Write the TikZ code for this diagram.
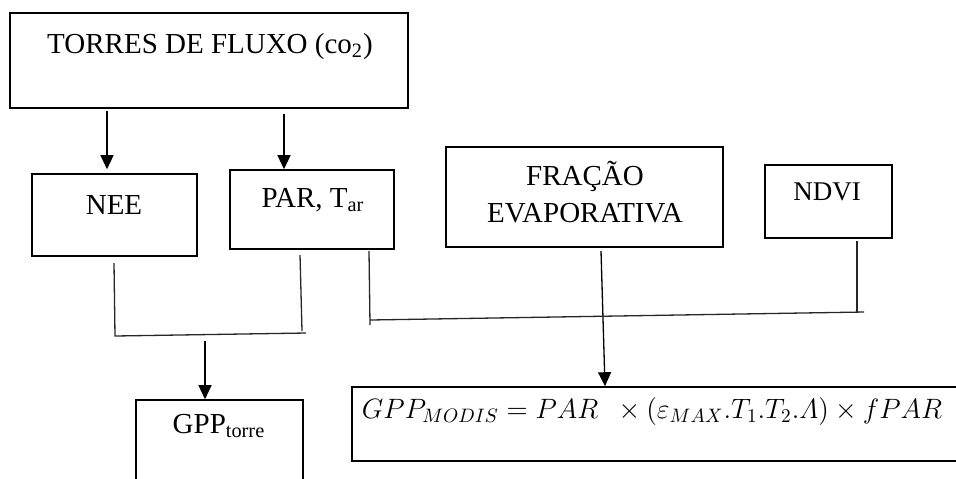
\documentclass[tikz,border=0pt]{standalone}
\usepackage{fontspec}
\setmainfont{Liberation Serif}
\usepackage{amsmath}
\usepackage{graphicx}
\usetikzlibrary{arrows.meta}
\begin{document}
\begin{tikzpicture}[x=0.5pt,y=-0.5pt,
  box/.style n args={2}{draw=black,line width=0.8pt,minimum width=#1,minimum height=#2,inner sep=0pt},
  txt/.style={anchor=base,inner sep=0pt,font=\fontsize{14.5}{17}\selectfont},
  arr/.style={-{Triangle[length=7pt,width=6.5pt]},line width=0.65pt,draw=black},
  conn/.style={line width=0.65pt,draw=black!85}]
\clip (0,0) rectangle (956,478);
% boxes
\node[box={199pt}{47.5pt}] (torres) at (209,60.5) {};
\node[box={82.5pt}{41pt}] (nee) at (114.5,215) {};
\node[box={82pt}{39.5pt}] (par) at (312,209.5) {};
\node[box={138.5pt}{50pt}] (frac) at (584.5,197) {};
\node[box={63.5pt}{36.5pt}] (ndvi) at (828.5,201.5) {};
\node[box={83.5pt}{60pt}] (gppt) at (219.5,460) {};
\node[box={309pt}{37pt}] (gppm) at (661,424) {};
% texts
\node[txt] (torrest) at (210,53) {TORRES DE FLUXO (co\textsubscript{2})};
\node[txt] (neet) at (114,214) {NEE};
\node[txt] (part) at (313,207) {PAR, T\textsubscript{ar}};
\node[txt] (fract1) at (585,185) {FRAÇÃO};
\node[txt] (fract2) at (585,222) {EVAPORATIVA};
\node[txt,font=\fontsize{13.5}{16}\selectfont] (ndvit) at (827,200) {NDVI};
\node[txt] (gpptt) at (219,433) {GPP\textsubscript{torre}};
\node[txt] (gppmt) at (652,418) {\resizebox{290pt}{10.5pt}{$GPP_{MODIS} = PAR\ \ \times (\varepsilon_{MAX}.T_1.T_2.\varLambda) \times fPAR$}};
% coordinates
\coordinate (xa) at (107,0);
\coordinate (xb) at (284,0);
\coordinate (n1) at (114,263);
\coordinate (j1l) at (115,336);
\coordinate (j1r) at (306,333);
\coordinate (p1) at (300,255);
\coordinate (p1b) at (302,331);
\coordinate (j1a) at (205,341);
\coordinate (p2) at (369,251);
\coordinate (p2b) at (370,325);
\coordinate (j2l) at (370,320);
\coordinate (j2r) at (864,312);
\coordinate (d1) at (857,241);
\coordinate (d1b) at (857,312);
\coordinate (f1) at (601,251);
\coordinate (f1b) at (605,0);
% arrows
\draw[arr] ([yshift=-1pt]torres.south -| xa) -- ([yshift=2pt]nee.north -| xa);
\draw[arr] ([yshift=-2.5pt]torres.south -| xb) -- (par.north -| xb);
\draw[arr] (j1a) -- (gppt.north -| j1a);
\draw[arr] (f1) -- (gppm.north -| f1b);
% connectors
\draw[conn] (n1) -- (j1l) -- (j1r);
\draw[conn] (p1) -- (p1b);
\draw[conn] (p2) -- (p2b);
\draw[conn] (j2l) -- (j2r);
\draw[conn] (d1) -- (d1b);
\end{tikzpicture}
\end{document}
